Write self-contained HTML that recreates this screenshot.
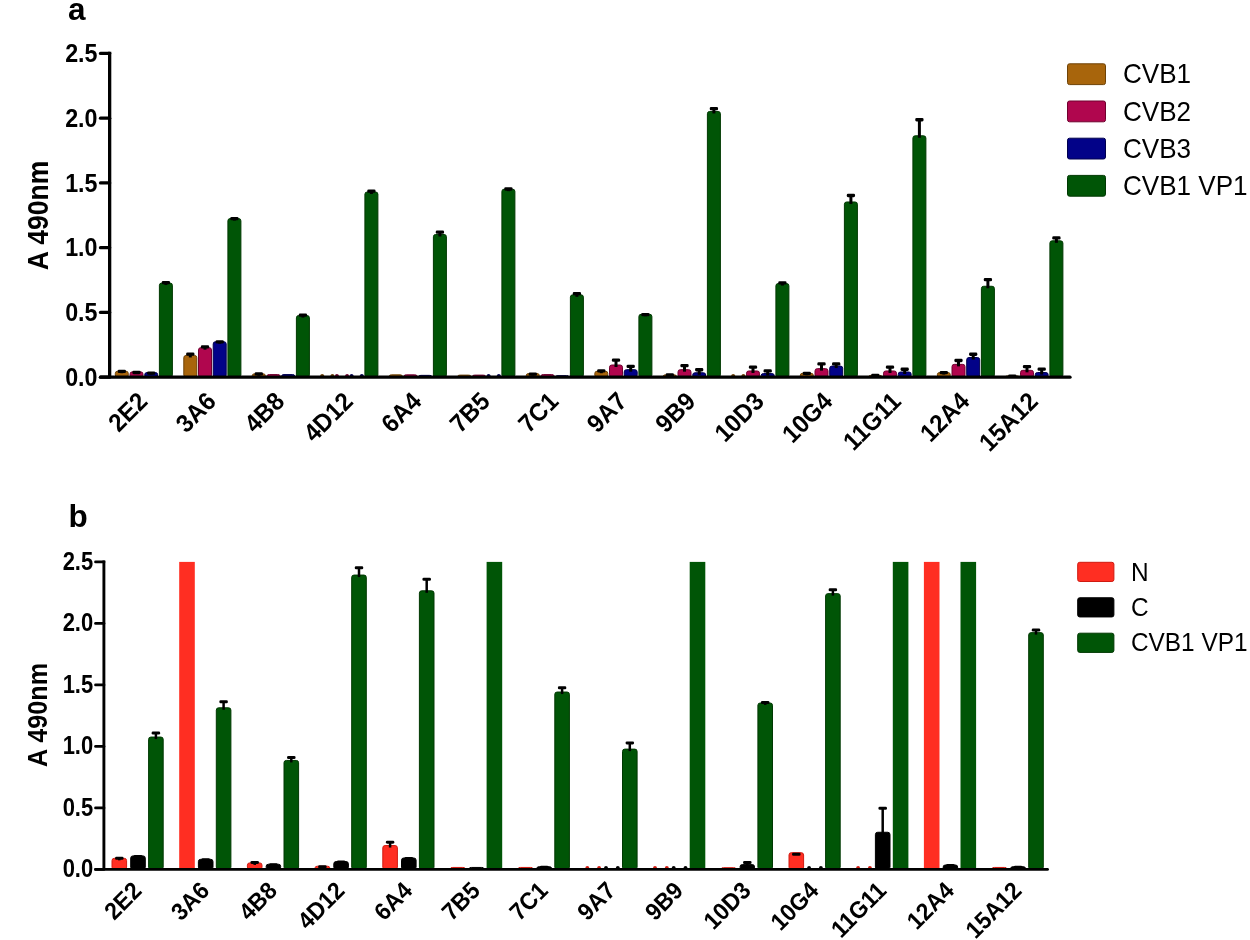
<!DOCTYPE html>
<html><head><meta charset="utf-8"><title>ELISA bar charts</title>
<style>
html,body{margin:0;padding:0;background:#fff;}
body{width:1250px;height:940px;overflow:hidden;}
svg{display:block;}
.b{font-family:"Liberation Sans",Arial,sans-serif;font-weight:bold;fill:#000;}
.r{font-family:"Liberation Sans",Arial,sans-serif;font-weight:normal;fill:#000;}
</style></head>
<body>
<svg width="1250" height="940" viewBox="0 0 1250 940">
<rect width="1250" height="940" fill="#fff"/>
<text x="68" y="20.3" class="b" font-size="31.5">a</text>
<rect x="115.3" y="371.22" width="13" height="5.98" rx="2.3" fill="#a8650c" stroke="#6e4206" stroke-width="1"/>
<line x1="121.8" y1="373.22" x2="121.8" y2="370.72" stroke="#000" stroke-width="3"/>
<rect x="117.65" y="369.72" width="8.3" height="3.3" rx="1.3" fill="#000"/>
<rect x="130" y="371.87" width="13" height="5.33" rx="2.3" fill="#b0064e" stroke="#70002e" stroke-width="1"/>
<line x1="136.5" y1="373.87" x2="136.5" y2="371.87" stroke="#000" stroke-width="3"/>
<rect x="132.35" y="370.87" width="8.3" height="3.3" rx="1.3" fill="#000"/>
<rect x="144.7" y="372.52" width="13" height="4.68" rx="2.3" fill="#020288" stroke="#00004e" stroke-width="1"/>
<line x1="151.2" y1="374.52" x2="151.2" y2="372.52" stroke="#000" stroke-width="3"/>
<rect x="147.05" y="371.52" width="8.3" height="3.3" rx="1.3" fill="#000"/>
<rect x="159.4" y="283.04" width="13" height="94.16" rx="2.3" fill="#005506" stroke="#003802" stroke-width="1"/>
<line x1="165.9" y1="285.04" x2="165.9" y2="282.04" stroke="#000" stroke-width="3"/>
<rect x="161.75" y="281.04" width="8.3" height="3.3" rx="1.3" fill="#000"/>
<rect x="183.8" y="355.43" width="13" height="21.77" rx="2.3" fill="#a8650c" stroke="#6e4206" stroke-width="1"/>
<line x1="190.3" y1="357.43" x2="190.3" y2="353.43" stroke="#000" stroke-width="3"/>
<rect x="186.15" y="352.43" width="8.3" height="3.3" rx="1.3" fill="#000"/>
<rect x="198.5" y="347.66" width="13" height="29.54" rx="2.3" fill="#b0064e" stroke="#70002e" stroke-width="1"/>
<line x1="205" y1="349.66" x2="205" y2="346.16" stroke="#000" stroke-width="3"/>
<rect x="200.85" y="345.16" width="8.3" height="3.3" rx="1.3" fill="#000"/>
<rect x="213.2" y="341.7" width="13" height="35.5" rx="2.3" fill="#020288" stroke="#00004e" stroke-width="1"/>
<line x1="219.7" y1="343.7" x2="219.7" y2="341.2" stroke="#000" stroke-width="3"/>
<rect x="215.55" y="340.2" width="8.3" height="3.3" rx="1.3" fill="#000"/>
<rect x="227.9" y="218.54" width="13" height="158.66" rx="2.3" fill="#005506" stroke="#003802" stroke-width="1"/>
<line x1="234.4" y1="220.54" x2="234.4" y2="218.04" stroke="#000" stroke-width="3"/>
<rect x="230.25" y="217.04" width="8.3" height="3.3" rx="1.3" fill="#000"/>
<rect x="252.3" y="373.81" width="13" height="3.38" rx="2.3" fill="#a8650c" stroke="#6e4206" stroke-width="1"/>
<line x1="258.8" y1="375.81" x2="258.8" y2="373.31" stroke="#000" stroke-width="3"/>
<rect x="254.65" y="372.31" width="8.3" height="3.3" rx="1.3" fill="#000"/>
<rect x="267" y="374.59" width="13" height="2.61" rx="2.3" fill="#b0064e" stroke="#70002e" stroke-width="1"/>
<rect x="281.7" y="374.59" width="13" height="2.61" rx="2.3" fill="#020288" stroke="#00004e" stroke-width="1"/>
<rect x="296.4" y="315.54" width="13" height="61.66" rx="2.3" fill="#005506" stroke="#003802" stroke-width="1"/>
<line x1="302.9" y1="317.54" x2="302.9" y2="314.54" stroke="#000" stroke-width="3"/>
<rect x="298.75" y="313.54" width="8.3" height="3.3" rx="1.3" fill="#000"/>
<ellipse cx="322.2" cy="375.6" rx="1.9" ry="1.7" fill="#6e4206"/>
<ellipse cx="332.4" cy="375.6" rx="1.9" ry="1.7" fill="#6e4206"/>
<ellipse cx="336.9" cy="375.6" rx="1.9" ry="1.7" fill="#70002e"/>
<ellipse cx="347.1" cy="375.6" rx="1.9" ry="1.7" fill="#70002e"/>
<ellipse cx="351.6" cy="375.6" rx="1.9" ry="1.7" fill="#00004e"/>
<ellipse cx="361.8" cy="375.6" rx="1.9" ry="1.7" fill="#00004e"/>
<rect x="364.9" y="192" width="13" height="185.2" rx="2.3" fill="#005506" stroke="#003802" stroke-width="1"/>
<line x1="371.4" y1="194" x2="371.4" y2="190.5" stroke="#000" stroke-width="3"/>
<rect x="367.25" y="189.5" width="8.3" height="3.3" rx="1.3" fill="#000"/>
<rect x="389.3" y="374.85" width="13" height="2.35" rx="2.3" fill="#a8650c" stroke="#6e4206" stroke-width="1"/>
<rect x="404" y="374.85" width="13" height="2.35" rx="2.3" fill="#b0064e" stroke="#70002e" stroke-width="1"/>
<rect x="418.7" y="375.37" width="13" height="1.83" rx="2.3" fill="#020288" stroke="#00004e" stroke-width="1"/>
<rect x="433.4" y="234.47" width="13" height="142.73" rx="2.3" fill="#005506" stroke="#003802" stroke-width="1"/>
<line x1="439.9" y1="236.47" x2="439.9" y2="231.47" stroke="#000" stroke-width="3"/>
<rect x="435.75" y="230.47" width="8.3" height="3.3" rx="1.3" fill="#000"/>
<rect x="457.8" y="375.11" width="13" height="2.09" rx="2.3" fill="#a8650c" stroke="#6e4206" stroke-width="1"/>
<rect x="472.5" y="375.11" width="13" height="2.09" rx="2.3" fill="#b0064e" stroke="#70002e" stroke-width="1"/>
<ellipse cx="488.6" cy="375.6" rx="1.9" ry="1.7" fill="#00004e"/>
<ellipse cx="498.8" cy="375.6" rx="1.9" ry="1.7" fill="#00004e"/>
<rect x="501.9" y="189.15" width="13" height="188.05" rx="2.3" fill="#005506" stroke="#003802" stroke-width="1"/>
<line x1="508.4" y1="191.15" x2="508.4" y2="188.35" stroke="#000" stroke-width="3"/>
<rect x="504.25" y="187.35" width="8.3" height="3.3" rx="1.3" fill="#000"/>
<rect x="526.3" y="373.56" width="13" height="3.64" rx="2.3" fill="#a8650c" stroke="#6e4206" stroke-width="1"/>
<line x1="532.8" y1="375.56" x2="532.8" y2="373.56" stroke="#000" stroke-width="3"/>
<rect x="528.65" y="372.56" width="8.3" height="3.3" rx="1.3" fill="#000"/>
<rect x="541" y="374.59" width="13" height="2.61" rx="2.3" fill="#b0064e" stroke="#70002e" stroke-width="1"/>
<rect x="555.7" y="375.63" width="13" height="1.57" rx="2.3" fill="#020288" stroke="#00004e" stroke-width="1"/>
<rect x="570.4" y="294.82" width="13" height="82.38" rx="2.3" fill="#005506" stroke="#003802" stroke-width="1"/>
<line x1="576.9" y1="296.82" x2="576.9" y2="292.92" stroke="#000" stroke-width="3"/>
<rect x="572.75" y="291.92" width="8.3" height="3.3" rx="1.3" fill="#000"/>
<rect x="594.8" y="371.22" width="13" height="5.98" rx="2.3" fill="#a8650c" stroke="#6e4206" stroke-width="1"/>
<line x1="601.3" y1="373.22" x2="601.3" y2="370.22" stroke="#000" stroke-width="3"/>
<rect x="597.15" y="369.22" width="8.3" height="3.3" rx="1.3" fill="#000"/>
<rect x="609.5" y="365.01" width="13" height="12.19" rx="2.3" fill="#b0064e" stroke="#70002e" stroke-width="1"/>
<line x1="616" y1="367.01" x2="616" y2="359.51" stroke="#000" stroke-width="3"/>
<rect x="611.85" y="358.51" width="8.3" height="3.3" rx="1.3" fill="#000"/>
<rect x="624.2" y="369.67" width="13" height="7.53" rx="2.3" fill="#020288" stroke="#00004e" stroke-width="1"/>
<line x1="630.7" y1="371.67" x2="630.7" y2="365.77" stroke="#000" stroke-width="3"/>
<rect x="626.55" y="364.77" width="8.3" height="3.3" rx="1.3" fill="#000"/>
<rect x="638.9" y="314.25" width="13" height="62.95" rx="2.3" fill="#005506" stroke="#003802" stroke-width="1"/>
<line x1="645.4" y1="316.25" x2="645.4" y2="314.05" stroke="#000" stroke-width="3"/>
<rect x="641.25" y="313.05" width="8.3" height="3.3" rx="1.3" fill="#000"/>
<rect x="663.3" y="374.85" width="13" height="2.35" rx="2.3" fill="#a8650c" stroke="#6e4206" stroke-width="1"/>
<line x1="669.8" y1="376.85" x2="669.8" y2="374.35" stroke="#000" stroke-width="3"/>
<rect x="665.65" y="373.35" width="8.3" height="3.3" rx="1.3" fill="#000"/>
<rect x="678" y="369.67" width="13" height="7.53" rx="2.3" fill="#b0064e" stroke="#70002e" stroke-width="1"/>
<line x1="684.5" y1="371.67" x2="684.5" y2="364.97" stroke="#000" stroke-width="3"/>
<rect x="680.35" y="363.97" width="8.3" height="3.3" rx="1.3" fill="#000"/>
<rect x="692.7" y="372.78" width="13" height="4.42" rx="2.3" fill="#020288" stroke="#00004e" stroke-width="1"/>
<line x1="699.2" y1="374.78" x2="699.2" y2="369.08" stroke="#000" stroke-width="3"/>
<rect x="695.05" y="368.08" width="8.3" height="3.3" rx="1.3" fill="#000"/>
<rect x="707.4" y="111.45" width="13" height="265.75" rx="2.3" fill="#005506" stroke="#003802" stroke-width="1"/>
<line x1="713.9" y1="113.45" x2="713.9" y2="107.95" stroke="#000" stroke-width="3"/>
<rect x="709.75" y="106.95" width="8.3" height="3.3" rx="1.3" fill="#000"/>
<ellipse cx="733.2" cy="375.6" rx="1.9" ry="1.7" fill="#6e4206"/>
<ellipse cx="743.4" cy="375.6" rx="1.9" ry="1.7" fill="#6e4206"/>
<rect x="746.5" y="370.97" width="13" height="6.23" rx="2.3" fill="#b0064e" stroke="#70002e" stroke-width="1"/>
<line x1="753" y1="372.97" x2="753" y2="366.57" stroke="#000" stroke-width="3"/>
<rect x="748.85" y="365.57" width="8.3" height="3.3" rx="1.3" fill="#000"/>
<rect x="761.2" y="373.56" width="13" height="3.64" rx="2.3" fill="#020288" stroke="#00004e" stroke-width="1"/>
<line x1="767.7" y1="375.56" x2="767.7" y2="370.16" stroke="#000" stroke-width="3"/>
<rect x="763.55" y="369.16" width="8.3" height="3.3" rx="1.3" fill="#000"/>
<rect x="775.9" y="283.55" width="13" height="93.65" rx="2.3" fill="#005506" stroke="#003802" stroke-width="1"/>
<line x1="782.4" y1="285.55" x2="782.4" y2="282.25" stroke="#000" stroke-width="3"/>
<rect x="778.25" y="281.25" width="8.3" height="3.3" rx="1.3" fill="#000"/>
<rect x="800.3" y="373.3" width="13" height="3.9" rx="2.3" fill="#a8650c" stroke="#6e4206" stroke-width="1"/>
<line x1="806.8" y1="375.3" x2="806.8" y2="372.8" stroke="#000" stroke-width="3"/>
<rect x="802.65" y="371.8" width="8.3" height="3.3" rx="1.3" fill="#000"/>
<rect x="815" y="368.63" width="13" height="8.56" rx="2.3" fill="#b0064e" stroke="#70002e" stroke-width="1"/>
<line x1="821.5" y1="370.63" x2="821.5" y2="363.24" stroke="#000" stroke-width="3"/>
<rect x="817.35" y="362.24" width="8.3" height="3.3" rx="1.3" fill="#000"/>
<rect x="829.7" y="366.05" width="13" height="11.15" rx="2.3" fill="#020288" stroke="#00004e" stroke-width="1"/>
<line x1="836.2" y1="368.05" x2="836.2" y2="363.25" stroke="#000" stroke-width="3"/>
<rect x="832.05" y="362.25" width="8.3" height="3.3" rx="1.3" fill="#000"/>
<rect x="844.4" y="201.97" width="13" height="175.23" rx="2.3" fill="#005506" stroke="#003802" stroke-width="1"/>
<line x1="850.9" y1="203.97" x2="850.9" y2="194.87" stroke="#000" stroke-width="3"/>
<rect x="846.75" y="193.87" width="8.3" height="3.3" rx="1.3" fill="#000"/>
<rect x="868.8" y="375.37" width="13" height="1.83" rx="2.3" fill="#a8650c" stroke="#6e4206" stroke-width="1"/>
<line x1="875.3" y1="377.37" x2="875.3" y2="374.87" stroke="#000" stroke-width="3"/>
<rect x="871.15" y="373.87" width="8.3" height="3.3" rx="1.3" fill="#000"/>
<rect x="883.5" y="370.97" width="13" height="6.23" rx="2.3" fill="#b0064e" stroke="#70002e" stroke-width="1"/>
<line x1="890" y1="372.97" x2="890" y2="366.57" stroke="#000" stroke-width="3"/>
<rect x="885.85" y="365.57" width="8.3" height="3.3" rx="1.3" fill="#000"/>
<rect x="898.2" y="372" width="13" height="5.2" rx="2.3" fill="#020288" stroke="#00004e" stroke-width="1"/>
<line x1="904.7" y1="374" x2="904.7" y2="368.6" stroke="#000" stroke-width="3"/>
<rect x="900.55" y="367.6" width="8.3" height="3.3" rx="1.3" fill="#000"/>
<rect x="912.9" y="135.79" width="13" height="241.41" rx="2.3" fill="#005506" stroke="#003802" stroke-width="1"/>
<line x1="919.4" y1="137.79" x2="919.4" y2="119.09" stroke="#000" stroke-width="3"/>
<rect x="915.25" y="118.09" width="8.3" height="3.3" rx="1.3" fill="#000"/>
<rect x="937.3" y="372.52" width="13" height="4.68" rx="2.3" fill="#a8650c" stroke="#6e4206" stroke-width="1"/>
<line x1="943.8" y1="374.52" x2="943.8" y2="372.02" stroke="#000" stroke-width="3"/>
<rect x="939.65" y="371.02" width="8.3" height="3.3" rx="1.3" fill="#000"/>
<rect x="952" y="364.36" width="13" height="12.84" rx="2.3" fill="#b0064e" stroke="#70002e" stroke-width="1"/>
<line x1="958.5" y1="366.36" x2="958.5" y2="359.86" stroke="#000" stroke-width="3"/>
<rect x="954.35" y="358.86" width="8.3" height="3.3" rx="1.3" fill="#000"/>
<rect x="966.7" y="357.5" width="13" height="19.7" rx="2.3" fill="#020288" stroke="#00004e" stroke-width="1"/>
<line x1="973.2" y1="359.5" x2="973.2" y2="353.6" stroke="#000" stroke-width="3"/>
<rect x="969.05" y="352.6" width="8.3" height="3.3" rx="1.3" fill="#000"/>
<rect x="981.4" y="286.27" width="13" height="90.93" rx="2.3" fill="#005506" stroke="#003802" stroke-width="1"/>
<line x1="987.9" y1="288.27" x2="987.9" y2="278.97" stroke="#000" stroke-width="3"/>
<rect x="983.75" y="277.97" width="8.3" height="3.3" rx="1.3" fill="#000"/>
<rect x="1005.8" y="375.89" width="13" height="1.31" rx="2.3" fill="#a8650c" stroke="#6e4206" stroke-width="1"/>
<line x1="1012.3" y1="377.89" x2="1012.3" y2="375.39" stroke="#000" stroke-width="3"/>
<rect x="1008.15" y="374.39" width="8.3" height="3.3" rx="1.3" fill="#000"/>
<rect x="1020.5" y="370.32" width="13" height="6.88" rx="2.3" fill="#b0064e" stroke="#70002e" stroke-width="1"/>
<line x1="1027" y1="372.32" x2="1027" y2="365.92" stroke="#000" stroke-width="3"/>
<rect x="1022.85" y="364.92" width="8.3" height="3.3" rx="1.3" fill="#000"/>
<rect x="1035.2" y="372.52" width="13" height="4.68" rx="2.3" fill="#020288" stroke="#00004e" stroke-width="1"/>
<line x1="1041.7" y1="374.52" x2="1041.7" y2="368.42" stroke="#000" stroke-width="3"/>
<rect x="1037.55" y="367.42" width="8.3" height="3.3" rx="1.3" fill="#000"/>
<rect x="1049.9" y="240.82" width="13" height="136.38" rx="2.3" fill="#005506" stroke="#003802" stroke-width="1"/>
<line x1="1056.4" y1="242.82" x2="1056.4" y2="237.32" stroke="#000" stroke-width="3"/>
<rect x="1052.25" y="236.32" width="8.3" height="3.3" rx="1.3" fill="#000"/>
<line x1="109.65" y1="51.75" x2="109.65" y2="377.2" stroke="#000" stroke-width="3.3"/>
<line x1="100.5" y1="377.2" x2="1070" y2="377.2" stroke="#000" stroke-width="3.3" stroke-linecap="round"/>
<line x1="100.5" y1="377.2" x2="109.65" y2="377.2" stroke="#000" stroke-width="3.3" stroke-linecap="round"/>
<text class="b" font-size="23.3" text-anchor="end" transform="translate(97.5 385.89) scale(1 1.07)">0.0</text>
<line x1="100.5" y1="312.45" x2="109.65" y2="312.45" stroke="#000" stroke-width="3.3" stroke-linecap="round"/>
<text class="b" font-size="23.3" text-anchor="end" transform="translate(97.5 321.14) scale(1 1.07)">0.5</text>
<line x1="100.5" y1="247.7" x2="109.65" y2="247.7" stroke="#000" stroke-width="3.3" stroke-linecap="round"/>
<text class="b" font-size="23.3" text-anchor="end" transform="translate(97.5 256.39) scale(1 1.07)">1.0</text>
<line x1="100.5" y1="182.95" x2="109.65" y2="182.95" stroke="#000" stroke-width="3.3" stroke-linecap="round"/>
<text class="b" font-size="23.3" text-anchor="end" transform="translate(97.5 191.64) scale(1 1.07)">1.5</text>
<line x1="100.5" y1="118.2" x2="109.65" y2="118.2" stroke="#000" stroke-width="3.3" stroke-linecap="round"/>
<text class="b" font-size="23.3" text-anchor="end" transform="translate(97.5 126.89) scale(1 1.07)">2.0</text>
<line x1="100.5" y1="53.45" x2="109.65" y2="53.45" stroke="#000" stroke-width="3.3" stroke-linecap="round"/>
<text class="b" font-size="23.3" text-anchor="end" transform="translate(97.5 62.14) scale(1 1.07)">2.5</text>
<text class="b" font-size="26.5" text-anchor="middle" transform="translate(47.6 215.5) rotate(-90) scale(1 1.08)">A 490nm</text>
<text class="b" font-size="24" text-anchor="end" transform="translate(148.95 402.8) rotate(-45) scale(1 1.05)">2E2</text>
<text class="b" font-size="24" text-anchor="end" transform="translate(217.45 402.8) rotate(-45) scale(1 1.05)">3A6</text>
<text class="b" font-size="24" text-anchor="end" transform="translate(285.95 402.8) rotate(-45) scale(1 1.05)">4B8</text>
<text class="b" font-size="24" text-anchor="end" transform="translate(354.45 402.8) rotate(-45) scale(1 1.05)">4D12</text>
<text class="b" font-size="24" text-anchor="end" transform="translate(422.95 402.8) rotate(-45) scale(1 1.05)">6A4</text>
<text class="b" font-size="24" text-anchor="end" transform="translate(491.45 402.8) rotate(-45) scale(1 1.05)">7B5</text>
<text class="b" font-size="24" text-anchor="end" transform="translate(559.95 402.8) rotate(-45) scale(1 1.05)">7C1</text>
<text class="b" font-size="24" text-anchor="end" transform="translate(628.45 402.8) rotate(-45) scale(1 1.05)">9A7</text>
<text class="b" font-size="24" text-anchor="end" transform="translate(696.95 402.8) rotate(-45) scale(1 1.05)">9B9</text>
<text class="b" font-size="24" text-anchor="end" transform="translate(765.45 402.8) rotate(-45) scale(1 1.05)">10D3</text>
<text class="b" font-size="24" text-anchor="end" transform="translate(833.95 402.8) rotate(-45) scale(1 1.05)">10G4</text>
<text class="b" font-size="24" text-anchor="end" transform="translate(902.45 402.8) rotate(-45) scale(1 1.05)">11G11</text>
<text class="b" font-size="24" text-anchor="end" transform="translate(970.95 402.8) rotate(-45) scale(1 1.05)">12A4</text>
<text class="b" font-size="24" text-anchor="end" transform="translate(1039.45 402.8) rotate(-45) scale(1 1.05)">15A12</text>
<rect x="1067.5" y="63.8" width="38" height="20.8" rx="2" fill="#a8650c" stroke="#6e4206" stroke-width="1"/>
<text class="r" font-size="26.1" transform="translate(1122.9 83.3) scale(1 1.045)">CVB1</text>
<rect x="1067.5" y="101" width="38" height="20.8" rx="2" fill="#b0064e" stroke="#70002e" stroke-width="1"/>
<text class="r" font-size="26.1" transform="translate(1122.9 120.5) scale(1 1.045)">CVB2</text>
<rect x="1067.5" y="138.2" width="38" height="20.8" rx="2" fill="#020288" stroke="#00004e" stroke-width="1"/>
<text class="r" font-size="26.1" transform="translate(1122.9 157.7) scale(1 1.045)">CVB3</text>
<rect x="1067.5" y="175.4" width="38" height="20.8" rx="2" fill="#005506" stroke="#003802" stroke-width="1"/>
<text class="r" font-size="26.1" transform="translate(1122.9 194.9) scale(1 1.045)">CVB1 VP1</text>
<text x="68.5" y="527.1" class="b" font-size="31.5">b</text>
<rect x="112" y="858.34" width="14.6" height="11.06" rx="2.3" fill="#ff2e22" stroke="#d01a10" stroke-width="1"/>
<line x1="119.3" y1="860.34" x2="119.3" y2="857.84" stroke="#000" stroke-width="2.5"/>
<rect x="115.05" y="856.84" width="8.5" height="3" rx="1.3" fill="#000"/>
<rect x="130.7" y="855.88" width="14.6" height="13.52" rx="2.3" fill="#000000" stroke="#000000" stroke-width="1"/>
<line x1="138" y1="857.88" x2="138" y2="855.88" stroke="#000" stroke-width="2.5"/>
<rect x="133.75" y="854.88" width="8.5" height="3" rx="1.3" fill="#000"/>
<rect x="148.6" y="737.06" width="14.6" height="132.34" rx="2.3" fill="#005506" stroke="#003802" stroke-width="1"/>
<line x1="155.9" y1="739.06" x2="155.9" y2="732.46" stroke="#000" stroke-width="2.5"/>
<rect x="151.65" y="731.46" width="8.5" height="3" rx="1.3" fill="#000"/>
<rect x="179.2" y="561.9" width="15.6" height="307.5" fill="#ff2e22"/>
<rect x="198.4" y="859.32" width="14.6" height="10.08" rx="2.3" fill="#000000" stroke="#000000" stroke-width="1"/>
<line x1="205.7" y1="861.32" x2="205.7" y2="859.32" stroke="#000" stroke-width="2.5"/>
<rect x="201.45" y="858.32" width="8.5" height="3" rx="1.3" fill="#000"/>
<rect x="216.3" y="707.79" width="14.6" height="161.61" rx="2.3" fill="#005506" stroke="#003802" stroke-width="1"/>
<line x1="223.6" y1="709.79" x2="223.6" y2="701.29" stroke="#000" stroke-width="2.5"/>
<rect x="219.35" y="700.29" width="8.5" height="3" rx="1.3" fill="#000"/>
<rect x="247.4" y="862.89" width="14.6" height="6.51" rx="2.3" fill="#ff2e22" stroke="#d01a10" stroke-width="1"/>
<line x1="254.7" y1="864.89" x2="254.7" y2="861.89" stroke="#000" stroke-width="2.5"/>
<rect x="250.45" y="860.89" width="8.5" height="3" rx="1.3" fill="#000"/>
<rect x="266.1" y="864.24" width="14.6" height="5.16" rx="2.3" fill="#000000" stroke="#000000" stroke-width="1"/>
<line x1="273.4" y1="866.24" x2="273.4" y2="864.24" stroke="#000" stroke-width="2.5"/>
<rect x="269.15" y="863.24" width="8.5" height="3" rx="1.3" fill="#000"/>
<rect x="284" y="760.43" width="14.6" height="108.97" rx="2.3" fill="#005506" stroke="#003802" stroke-width="1"/>
<line x1="291.3" y1="762.43" x2="291.3" y2="756.93" stroke="#000" stroke-width="2.5"/>
<rect x="287.05" y="755.93" width="8.5" height="3" rx="1.3" fill="#000"/>
<rect x="315.1" y="866.21" width="14.6" height="3.19" rx="2.3" fill="#ff2e22" stroke="#d01a10" stroke-width="1"/>
<line x1="322.4" y1="868.21" x2="322.4" y2="866.21" stroke="#000" stroke-width="2.5"/>
<rect x="318.15" y="865.21" width="8.5" height="3" rx="1.3" fill="#000"/>
<rect x="333.8" y="861.54" width="14.6" height="7.86" rx="2.3" fill="#000000" stroke="#000000" stroke-width="1"/>
<line x1="341.1" y1="863.54" x2="341.1" y2="861.54" stroke="#000" stroke-width="2.5"/>
<rect x="336.85" y="860.54" width="8.5" height="3" rx="1.3" fill="#000"/>
<rect x="351.7" y="575.07" width="14.6" height="294.33" rx="2.3" fill="#005506" stroke="#003802" stroke-width="1"/>
<line x1="359" y1="577.07" x2="359" y2="567.27" stroke="#000" stroke-width="2.5"/>
<rect x="354.75" y="566.27" width="8.5" height="3" rx="1.3" fill="#000"/>
<rect x="382.8" y="845.55" width="14.6" height="23.85" rx="2.3" fill="#ff2e22" stroke="#d01a10" stroke-width="1"/>
<line x1="390.1" y1="847.55" x2="390.1" y2="841.65" stroke="#000" stroke-width="2.5"/>
<rect x="385.85" y="840.65" width="8.5" height="3" rx="1.3" fill="#000"/>
<rect x="401.5" y="857.97" width="14.6" height="11.43" rx="2.3" fill="#000000" stroke="#000000" stroke-width="1"/>
<line x1="408.8" y1="859.97" x2="408.8" y2="857.97" stroke="#000" stroke-width="2.5"/>
<rect x="404.55" y="856.97" width="8.5" height="3" rx="1.3" fill="#000"/>
<rect x="419.4" y="590.81" width="14.6" height="278.59" rx="2.3" fill="#005506" stroke="#003802" stroke-width="1"/>
<line x1="426.7" y1="592.81" x2="426.7" y2="578.81" stroke="#000" stroke-width="2.5"/>
<rect x="422.45" y="577.81" width="8.5" height="3" rx="1.3" fill="#000"/>
<rect x="450.5" y="867.44" width="14.6" height="1.96" rx="2.3" fill="#ff2e22" stroke="#d01a10" stroke-width="1"/>
<rect x="469.2" y="867.44" width="14.6" height="1.96" rx="2.3" fill="#000000" stroke="#000000" stroke-width="1"/>
<rect x="486.6" y="561.9" width="15.6" height="307.5" fill="#005506"/>
<rect x="518.2" y="867.44" width="14.6" height="1.96" rx="2.3" fill="#ff2e22" stroke="#d01a10" stroke-width="1"/>
<rect x="536.9" y="866.7" width="14.6" height="2.7" rx="2.3" fill="#000000" stroke="#000000" stroke-width="1"/>
<line x1="544.2" y1="868.7" x2="544.2" y2="866.7" stroke="#000" stroke-width="2.5"/>
<rect x="539.95" y="865.7" width="8.5" height="3" rx="1.3" fill="#000"/>
<rect x="554.8" y="692.04" width="14.6" height="177.36" rx="2.3" fill="#005506" stroke="#003802" stroke-width="1"/>
<line x1="562.1" y1="694.04" x2="562.1" y2="687.34" stroke="#000" stroke-width="2.5"/>
<rect x="557.85" y="686.34" width="8.5" height="3" rx="1.3" fill="#000"/>
<ellipse cx="587.3" cy="867.8" rx="1.9" ry="1.7" fill="#d01a10"/>
<ellipse cx="599.1" cy="867.8" rx="1.9" ry="1.7" fill="#d01a10"/>
<ellipse cx="606" cy="867.8" rx="1.9" ry="1.7" fill="#000"/>
<ellipse cx="617.8" cy="867.8" rx="1.9" ry="1.7" fill="#000"/>
<rect x="622.5" y="749.11" width="14.6" height="120.29" rx="2.3" fill="#005506" stroke="#003802" stroke-width="1"/>
<line x1="629.8" y1="751.11" x2="629.8" y2="742.41" stroke="#000" stroke-width="2.5"/>
<rect x="625.55" y="741.41" width="8.5" height="3" rx="1.3" fill="#000"/>
<ellipse cx="655" cy="867.8" rx="1.9" ry="1.7" fill="#d01a10"/>
<ellipse cx="666.8" cy="867.8" rx="1.9" ry="1.7" fill="#d01a10"/>
<ellipse cx="673.7" cy="867.8" rx="1.9" ry="1.7" fill="#000"/>
<ellipse cx="685.5" cy="867.8" rx="1.9" ry="1.7" fill="#000"/>
<rect x="689.7" y="561.9" width="15.6" height="307.5" fill="#005506"/>
<rect x="721.3" y="867.69" width="14.6" height="1.71" rx="2.3" fill="#ff2e22" stroke="#d01a10" stroke-width="1"/>
<rect x="740" y="864.61" width="14.6" height="4.79" rx="2.3" fill="#000000" stroke="#000000" stroke-width="1"/>
<line x1="747.3" y1="866.61" x2="747.3" y2="862.11" stroke="#000" stroke-width="2.5"/>
<rect x="743.05" y="861.11" width="8.5" height="3" rx="1.3" fill="#000"/>
<rect x="757.9" y="702.99" width="14.6" height="166.41" rx="2.3" fill="#005506" stroke="#003802" stroke-width="1"/>
<line x1="765.2" y1="704.99" x2="765.2" y2="701.99" stroke="#000" stroke-width="2.5"/>
<rect x="760.95" y="700.99" width="8.5" height="3" rx="1.3" fill="#000"/>
<rect x="789" y="852.68" width="14.6" height="16.72" rx="2.3" fill="#ff2e22" stroke="#d01a10" stroke-width="1"/>
<rect x="792.05" y="852.68" width="8.5" height="3" rx="1.3" fill="#000"/>
<ellipse cx="809.1" cy="867.8" rx="1.9" ry="1.7" fill="#000"/>
<ellipse cx="820.9" cy="867.8" rx="1.9" ry="1.7" fill="#000"/>
<rect x="825.6" y="593.64" width="14.6" height="275.76" rx="2.3" fill="#005506" stroke="#003802" stroke-width="1"/>
<line x1="832.9" y1="595.64" x2="832.9" y2="589.34" stroke="#000" stroke-width="2.5"/>
<rect x="828.65" y="588.34" width="8.5" height="3" rx="1.3" fill="#000"/>
<ellipse cx="858.1" cy="867.8" rx="1.9" ry="1.7" fill="#d01a10"/>
<ellipse cx="869.9" cy="867.8" rx="1.9" ry="1.7" fill="#d01a10"/>
<rect x="875.4" y="832.26" width="14.6" height="37.14" rx="2.3" fill="#000000" stroke="#000000" stroke-width="1"/>
<line x1="882.7" y1="834.26" x2="882.7" y2="807.76" stroke="#000" stroke-width="2.5"/>
<rect x="878.45" y="806.76" width="8.5" height="3" rx="1.3" fill="#000"/>
<rect x="892.8" y="561.9" width="15.6" height="307.5" fill="#005506"/>
<rect x="923.9" y="561.9" width="15.6" height="307.5" fill="#ff2e22"/>
<rect x="943.1" y="864.98" width="14.6" height="4.42" rx="2.3" fill="#000000" stroke="#000000" stroke-width="1"/>
<line x1="950.4" y1="866.98" x2="950.4" y2="864.98" stroke="#000" stroke-width="2.5"/>
<rect x="946.15" y="863.98" width="8.5" height="3" rx="1.3" fill="#000"/>
<rect x="960.5" y="561.9" width="15.6" height="307.5" fill="#005506"/>
<rect x="992.1" y="867.44" width="14.6" height="1.96" rx="2.3" fill="#ff2e22" stroke="#d01a10" stroke-width="1"/>
<rect x="1010.8" y="866.7" width="14.6" height="2.7" rx="2.3" fill="#000000" stroke="#000000" stroke-width="1"/>
<line x1="1018.1" y1="868.7" x2="1018.1" y2="866.7" stroke="#000" stroke-width="2.5"/>
<rect x="1013.85" y="865.7" width="8.5" height="3" rx="1.3" fill="#000"/>
<rect x="1028.7" y="632.63" width="14.6" height="236.77" rx="2.3" fill="#005506" stroke="#003802" stroke-width="1"/>
<line x1="1036" y1="634.63" x2="1036" y2="629.53" stroke="#000" stroke-width="2.5"/>
<rect x="1031.75" y="628.53" width="8.5" height="3" rx="1.3" fill="#000"/>
<line x1="103.9" y1="560.45" x2="103.9" y2="869.4" stroke="#000" stroke-width="2.9"/>
<line x1="95.6" y1="869.4" x2="1047.5" y2="869.4" stroke="#000" stroke-width="2.9" stroke-linecap="round"/>
<line x1="95.6" y1="869.4" x2="103.9" y2="869.4" stroke="#000" stroke-width="2.9" stroke-linecap="round"/>
<text class="b" font-size="22" text-anchor="end" transform="translate(93.2 877.02) scale(1 1.15)">0.0</text>
<line x1="95.6" y1="807.9" x2="103.9" y2="807.9" stroke="#000" stroke-width="2.9" stroke-linecap="round"/>
<text class="b" font-size="22" text-anchor="end" transform="translate(93.2 815.52) scale(1 1.15)">0.5</text>
<line x1="95.6" y1="746.4" x2="103.9" y2="746.4" stroke="#000" stroke-width="2.9" stroke-linecap="round"/>
<text class="b" font-size="22" text-anchor="end" transform="translate(93.2 754.02) scale(1 1.15)">1.0</text>
<line x1="95.6" y1="684.9" x2="103.9" y2="684.9" stroke="#000" stroke-width="2.9" stroke-linecap="round"/>
<text class="b" font-size="22" text-anchor="end" transform="translate(93.2 692.52) scale(1 1.15)">1.5</text>
<line x1="95.6" y1="623.4" x2="103.9" y2="623.4" stroke="#000" stroke-width="2.9" stroke-linecap="round"/>
<text class="b" font-size="22" text-anchor="end" transform="translate(93.2 631.02) scale(1 1.15)">2.0</text>
<line x1="95.6" y1="561.9" x2="103.9" y2="561.9" stroke="#000" stroke-width="2.9" stroke-linecap="round"/>
<text class="b" font-size="22" text-anchor="end" transform="translate(93.2 569.52) scale(1 1.15)">2.5</text>
<text class="b" font-size="25.2" text-anchor="middle" transform="translate(46.5 715) rotate(-90) scale(1 1.08)">A 490nm</text>
<text class="b" font-size="22.9" text-anchor="end" transform="translate(143 892.1) rotate(-45) scale(1 1.05)">2E2</text>
<text class="b" font-size="22.9" text-anchor="end" transform="translate(210.7 892.1) rotate(-45) scale(1 1.05)">3A6</text>
<text class="b" font-size="22.9" text-anchor="end" transform="translate(278.4 892.1) rotate(-45) scale(1 1.05)">4B8</text>
<text class="b" font-size="22.9" text-anchor="end" transform="translate(346.1 892.1) rotate(-45) scale(1 1.05)">4D12</text>
<text class="b" font-size="22.9" text-anchor="end" transform="translate(413.8 892.1) rotate(-45) scale(1 1.05)">6A4</text>
<text class="b" font-size="22.9" text-anchor="end" transform="translate(481.5 892.1) rotate(-45) scale(1 1.05)">7B5</text>
<text class="b" font-size="22.9" text-anchor="end" transform="translate(549.2 892.1) rotate(-45) scale(1 1.05)">7C1</text>
<text class="b" font-size="22.9" text-anchor="end" transform="translate(616.9 892.1) rotate(-45) scale(1 1.05)">9A7</text>
<text class="b" font-size="22.9" text-anchor="end" transform="translate(684.6 892.1) rotate(-45) scale(1 1.05)">9B9</text>
<text class="b" font-size="22.9" text-anchor="end" transform="translate(752.3 892.1) rotate(-45) scale(1 1.05)">10D3</text>
<text class="b" font-size="22.9" text-anchor="end" transform="translate(820 892.1) rotate(-45) scale(1 1.05)">10G4</text>
<text class="b" font-size="22.9" text-anchor="end" transform="translate(887.7 892.1) rotate(-45) scale(1 1.05)">11G11</text>
<text class="b" font-size="22.9" text-anchor="end" transform="translate(955.4 892.1) rotate(-45) scale(1 1.05)">12A4</text>
<text class="b" font-size="22.9" text-anchor="end" transform="translate(1023.1 892.1) rotate(-45) scale(1 1.05)">15A12</text>
<rect x="1077.7" y="562.3" width="36.2" height="19.2" rx="2" fill="#ff2e22" stroke="#d01a10" stroke-width="1"/>
<text class="r" font-size="24.4" transform="translate(1130.9 580.58) scale(1 1.075)">N</text>
<rect x="1077.7" y="597.75" width="36.2" height="19.2" rx="2" fill="#000000" stroke="#000000" stroke-width="1"/>
<text class="r" font-size="24.4" transform="translate(1130.9 616.03) scale(1 1.075)">C</text>
<rect x="1077.7" y="633.2" width="36.2" height="19.2" rx="2" fill="#005506" stroke="#003802" stroke-width="1"/>
<text class="r" font-size="24.4" transform="translate(1130.9 651.48) scale(1 1.075)">CVB1 VP1</text>
</svg>
</body></html>
